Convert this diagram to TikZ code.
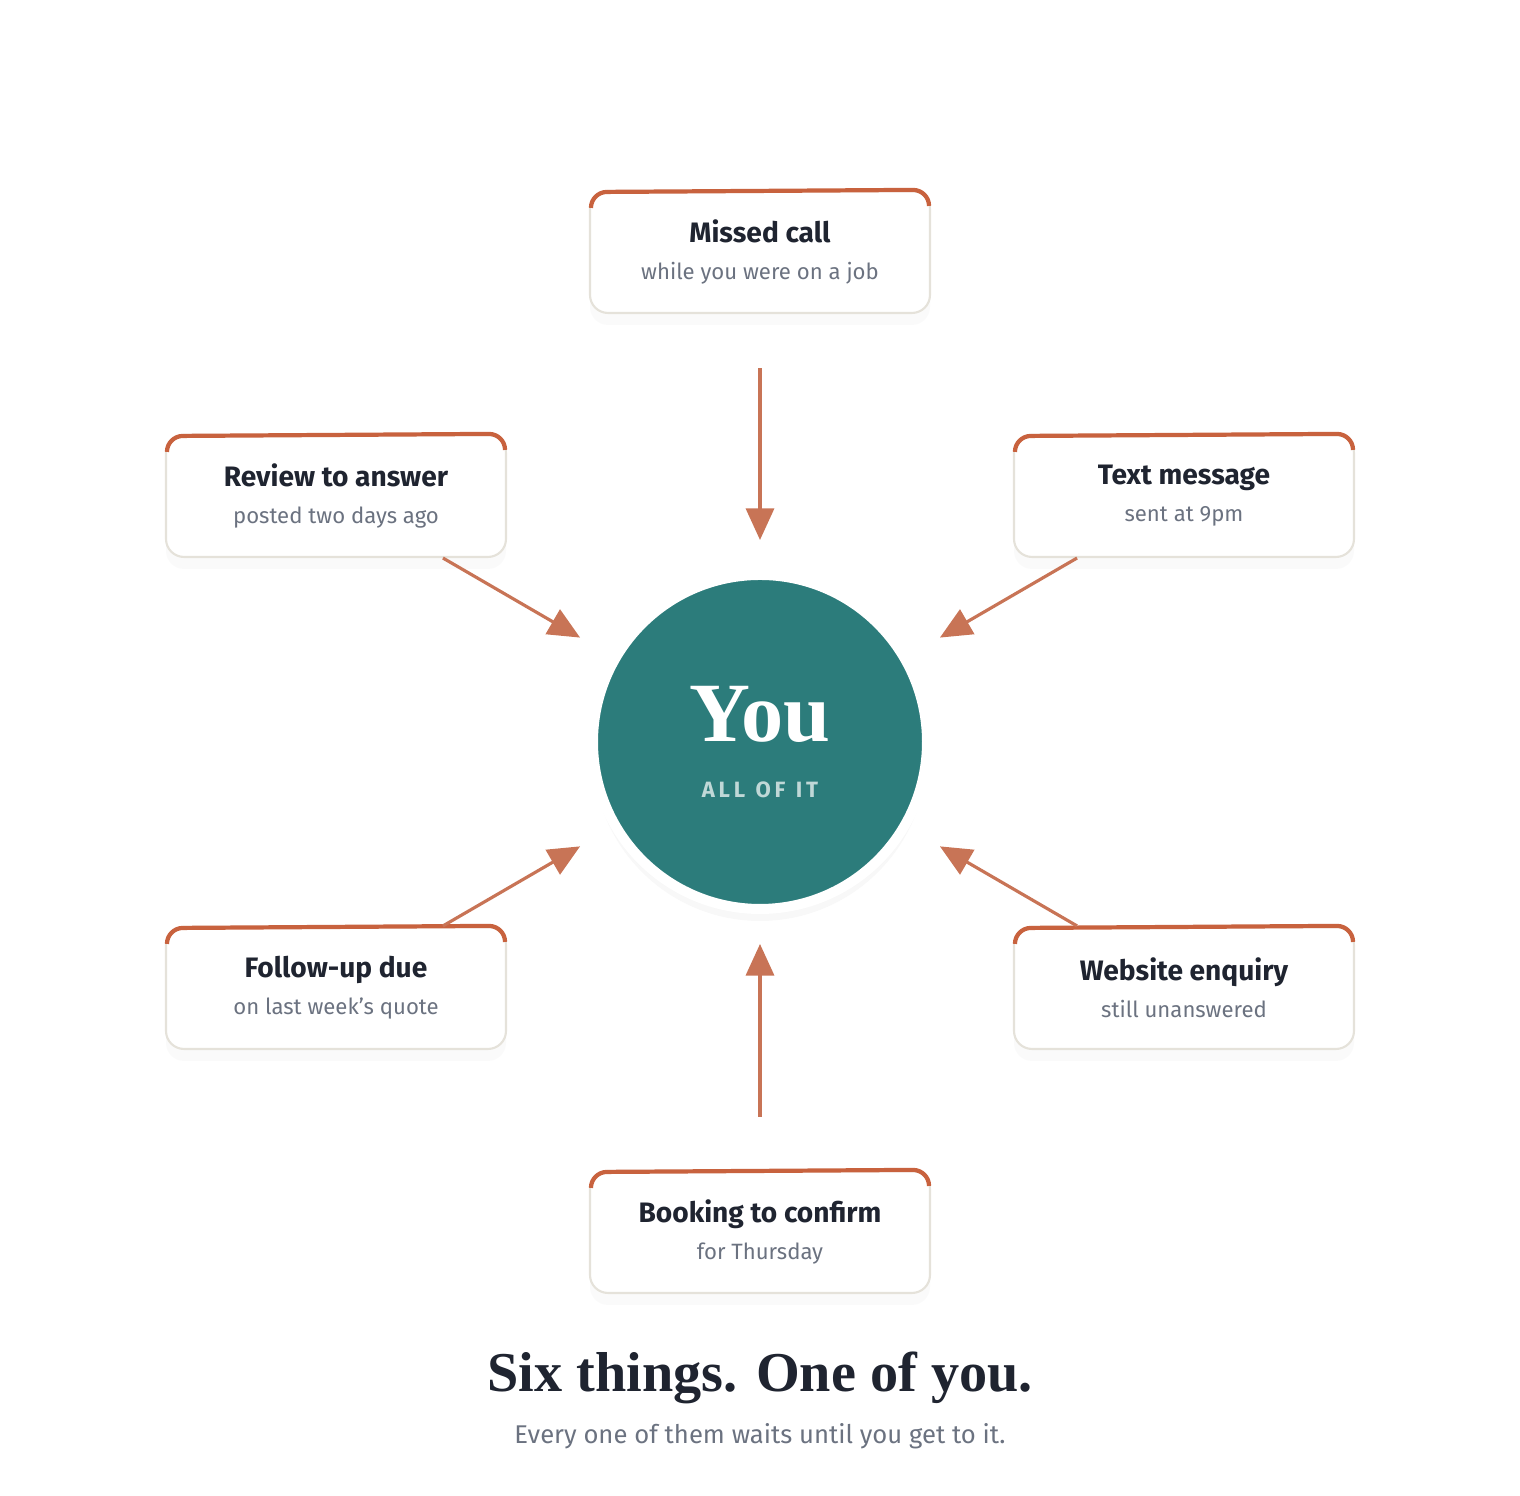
\documentclass[tikz,border=0pt]{standalone}
\usepackage{fontspec}
\setmainfont{Fira Sans}
\newfontfamily\headfont{Liberation Serif}
\usetikzlibrary{arrows.meta,shadows,calc}
\definecolor{teal}{HTML}{2C7C7B}
\definecolor{rust}{HTML}{C8623E}
\definecolor{arrowc}{HTML}{C87456}
\definecolor{ink}{HTML}{1F2430}
\definecolor{muted}{HTML}{6B7280}
\definecolor{edge}{HTML}{E5E2DA}
\tikzset{
  task/.style={draw=edge, line width=0.6pt, fill=white, rounded corners=0.18cm,
    minimum width=3.4cm, minimum height=1.22cm, align=center, inner sep=0pt,
    drop shadow={opacity=0.04, shadow xshift=0pt, shadow yshift=-0.12cm}},
  feed/.style={arrowc, line width=0.9pt, -{Triangle[width=8pt,length=9pt]}},
}
\newcommand{\tasktext}[2]{{\fontsize{8pt}{10pt}\selectfont\bfseries\color{ink}#1}\\[-1.5pt]{\fontsize{6.3pt}{8pt}\selectfont\color{muted}#2}}
\newcommand{\topbar}[1]{\draw[rust, line width=1.2pt] ($(#1.north west)+(0.02,-0.18)$) arc (180:90:0.16) -- ($(#1.north east)+(-0.18,0)$) arc (90:0:0.16);}
\begin{document}
\begin{tikzpicture}
\useasboundingbox (0,0) rectangle (15.2,14.96);
% central circle
\node[circle, fill=teal, draw=white, line width=0.1cm, minimum size=3.34cm, outer sep=0pt,
  drop shadow={opacity=0.06, shadow xshift=0pt, shadow yshift=-0.12cm}, align=center] (you) at (7.6,7.54)
  {{\headfont\bfseries\fontsize{24pt}{26pt}\selectfont\color{white}You}\\[4pt]
   {\fontsize{6.3pt}{8pt}\selectfont\bfseries\color{teal!30!white}A\,L\,L\ \ O\,F\ \ I\,T}};
% tasks
\node[task] (call) at (7.6,12.44) {\tasktext{Missed call}{while you were on a job}};
\node[task] (review) at (3.36,10.0) {\tasktext{Review to answer}{posted two days ago}};
\node[task] (text) at (11.84,10.0) {\tasktext{Text message}{sent at 9pm}};
\node[task] (follow) at (3.36,5.08) {\tasktext{Follow-up due}{on last week's quote}};
\node[task] (web) at (11.84,5.08) {\tasktext{Website enquiry}{still unanswered}};
\node[task] (book) at (7.6,2.64) {\tasktext{Booking to confirm}{for Thursday}};
\foreach \t in {call,review,text,follow,web,book} {\topbar{\t}}
% arrows
\draw[feed, shorten <=0.54cm, shorten >=0.35cm] (call) -- (you);
\draw[feed, shorten <=0.53cm, shorten >=0.35cm] (book) -- (you);
\draw[feed, shorten >=0.41cm] (review) -- (you);
\draw[feed, shorten >=0.41cm] (text) -- (you);
\draw[feed, shorten >=0.41cm] (follow) -- (you);
\draw[feed, shorten >=0.41cm] (web) -- (you);
% caption
\node[font=\headfont\bfseries\fontsize{16pt}{18pt}\selectfont, text=ink] (title) at (7.6,1.18) {Six things. One of you.};
\node[font=\fontsize{7.3pt}{9pt}\selectfont, text=muted] (sub) at (7.6,0.6) {Every one of them waits until you get to it.};
\end{tikzpicture}
\end{document}
